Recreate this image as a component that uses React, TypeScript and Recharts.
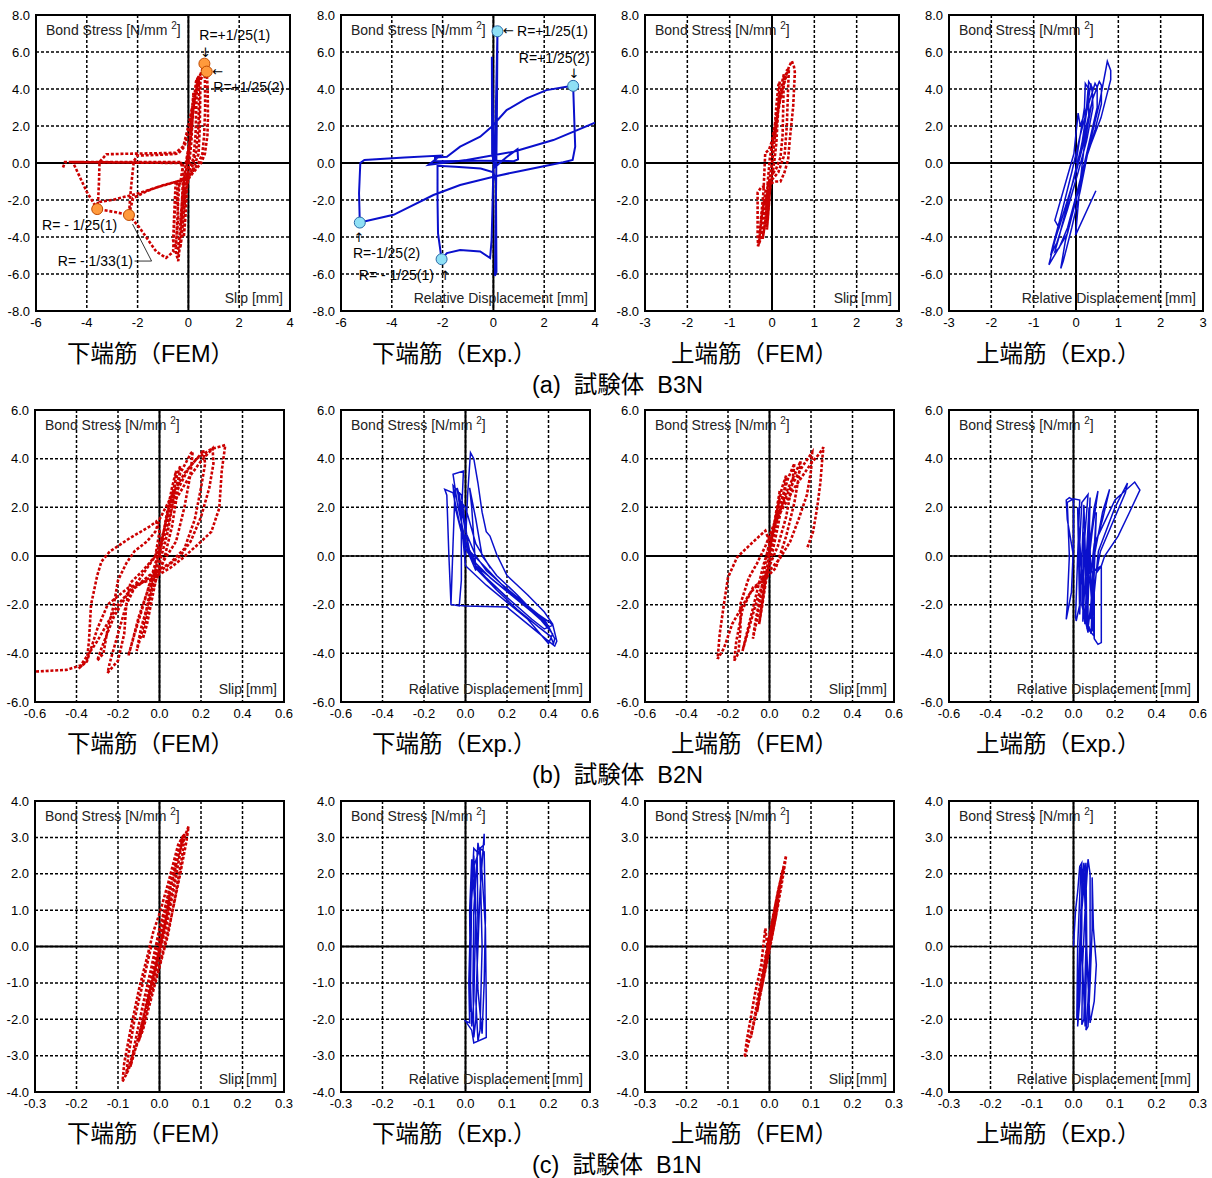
import React from 'react';
import { ComposedChart, Line, XAxis, YAxis, CartesianGrid, ReferenceLine, ReferenceArea, ReferenceDot } from 'recharts';

// ---------- tick values ----------
const X_TICKS_A_WIDE = [-6, -4, -2, 0, 2, 4];
const X_TICKS_A_NARROW = [-3, -2, -1, 0, 1, 2, 3];
const Y_TICKS_A = [-8, -6, -4, -2, 0, 2, 4, 6, 8];
const X_TICKS_B = [-0.6, -0.4, -0.2, 0, 0.2, 0.4, 0.6];
const Y_TICKS_B = [-6, -4, -2, 0, 2, 4, 6];
const X_TICKS_C = [-0.3, -0.2, -0.1, 0, 0.1, 0.2, 0.3];
const Y_TICKS_C = [-4, -3, -2, -1, 0, 1, 2, 3, 4];

// ---------- captions ----------
const GROUP_CAPTIONS = ['(a)  試験体  B3N', '(b)  試験体  B2N', '(c)  試験体  B1N'];
const PANEL_CAPTIONS = ['下端筋（FEM）', '下端筋（Exp.）', '上端筋（FEM）', '上端筋（Exp.）'];

// ---------- (a) B3N ----------
const B3N_BOT_FEM = [
  [0, 0], [0.05, 1.0], [0.1, 2.0], [0.15, 3.0], [0.2, 3.8], [0.18, 3.0], [0.12, 1.2], [0.05, 0.2], [-0.05, -0.8], [-0.1, -2.0], [-0.15, -3.2], [-0.18, -4.0], [-0.12, -3.0], [-0.05, -1.2], [0.02, 0.3],
  [0.1, 1.8], [0.2, 3.2], [0.3, 4.4], [0.35, 4.6], [0.32, 3.5], [0.28, 1.5], [0.2, 0.3], [0.05, -0.4], [-0.1, -1.5], [-0.2, -3.0], [-0.28, -4.2], [-0.32, -4.6], [-0.25, -3.5], [-0.15, -1.5], [-0.05, 0.2],
  [0.1, 1.5], [0.25, 3.5], [0.4, 4.6], [0.48, 4.8], [0.47, 4.0], [0.45, 2.0], [0.4, 0.5], [0.2, -0.3], [0, -0.9], [-0.2, -2.0], [-0.3, -3.5], [-0.4, -4.6], [-0.42, -5.0], [-0.35, -4.0], [-0.25, -2.0], [-0.1, 0.0],
  [0.05, 1.2], [0.2, 3.0], [0.35, 4.4], [0.4, 4.7], [0.42, 3.5], [0.4, 2.0], [0.3, 0.6], [0.1, -0.5], [-0.3, -0.95],
  [-1.0, -1.2], [-1.6, -1.5], [-2.18, -1.9], [-2.34, -2.81],
  [-2.3, -2.0], [-2.25, -1.2], [-2.15, 0.1], [-2.0, 0.4], [-1.0, 0.45], [-0.4, 0.5], [-0.15, 0.9], [0.05, 2.0], [0.25, 3.6], [0.45, 4.7], [0.63, 5.37],
  [0.65, 4.5], [0.66, 3.0], [0.62, 1.5], [0.55, 0.5], [0.4, 0.0], [0.15, -0.5], [-0.1, -0.9], [-0.5, -1.0], [-0.55, -2.5], [-0.6, -4.2], [-0.5, -4.6], [-0.4, -3.0], [-0.45, -1.0],
  [-1.2, -1.3], [-2.0, -1.65], [-3.0, -2.0], [-3.49, -2.1], [-3.59, -2.49],
  [-3.55, -1.9], [-3.52, -1.0], [-3.5, 0.05], [-3.23, 0.47], [-2.5, 0.5], [-1.5, 0.52], [-0.5, 0.55], [-0.2, 0.9], [0.0, 2.0], [0.2, 3.4], [0.4, 4.3], [0.6, 4.8], [0.72, 4.94],
  [0.76, 4.0], [0.77, 2.5], [0.75, 1.5], [0.65, 0.5], [0.5, 0.0], [0.2, -0.5], [0.0, -0.85], [-0.35, -1.0], [-0.4, -2.0], [-0.45, -3.5], [-0.5, -4.8], [-0.4, -5.3], [-0.3, -4.0], [-0.25, -2.0], [-0.2, -0.5], [-0.3, 0.05],
  [-1.5, 0.05], [-3.0, 0.05], [-4.0, 0.05], [-4.55, 0.05], [-4.0, -1.56], [-3.59, -2.49], [-2.9, -2.65], [-2.34, -2.81], [-1.92, -3.5], [-1.27, -4.78], [-0.88, -5.13], [-0.6, -4.8], [-0.55, -3.0], [-0.5, -1.9], [-0.3, -0.9], [-0.2, 0.0], [-2.0, 0.02], [-4.6, 0.05], [-4.86, 0.05], [-4.95, -0.3],
];
const B3N_BOT_FEM_MARKS = [[0.63, 5.37], [0.72, 4.94], [-3.59, -2.49], [-2.34, -2.81]];

const B3N_BOT_EXP = [
  [0, 0], [0.03, 1.0], [0.02, -0.3], [-0.06, 5.74], [-0.05, 0.5], [0.05, -0.2], [0.16, 7.12], [0.14, 3.0], [0.1, -2.0], [0.06, -6.1], [0.12, -5.9], [0.1, -1.0], [0.0, -0.5],
  [-0.5, -0.3], [-1.5, -0.2], [-2.2, -0.15], [-2.2, -2.0], [-2.18, -3.8], [-2.04, -5.2], [-1.83, -4.87], [-1.31, -4.7], [-0.52, -4.78], [-0.13, -5.14], [-0.07, -4.15], [-0.03, -2.0], [0.0, -0.3],
  [0.5, 0.3], [0.95, 0.75], [0.97, 0.2], [0.8, 0.1], [-0.5, 0.12], [-2.3, 0.1], [-2.3, 0.3], [-1.83, 0.34], [-1.31, 0.88], [-0.52, 1.42], [-0.07, 1.96], [0.52, 2.86], [1.31, 3.49], [2.09, 3.94], [2.88, 4.12], [3.14, 4.17],
  [3.22, 0.88], [3.12, 0.16], [2.75, 0.04], [0.92, -0.47], [0, -0.74], [-1.31, -1.19], [-2.36, -1.73], [-3.93, -2.8], [-5.26, -3.22],
  [-5.29, -1.64], [-5.24, 0], [-5.08, 0.16], [-3.5, 0.3], [-2.09, 0.4], [-2.55, -0.1], [-1.05, 0.16], [0.79, 0.61], [2.36, 1.24], [4.0, 2.18],
];
const B3N_BOT_EXP_MARKS = [[0.16, 7.12], [3.14, 4.17], [-5.26, -3.22], [-2.04, -5.2]];

const B3N_TOP_FEM = [
  [0, 0], [0.05, 1.5], [0.1, 3.0], [0.15, 4.2], [0.18, 4.4], [0.15, 3.0], [0.1, 1.0], [0.05, 0], [-0.05, -1.5], [-0.1, -3.0], [-0.12, -3.6], [-0.08, -2.5], [-0.02, -0.5],
  [0.05, 1.0], [0.15, 3.0], [0.25, 4.5], [0.28, 4.8], [0.27, 3.5], [0.25, 1.5], [0.2, 0.3], [0.1, -0.3], [-0.05, -0.8], [-0.12, -2.0], [-0.18, -3.5], [-0.22, -4.1], [-0.15, -3.0], [-0.1, -1.0], [-0.05, 0.3],
  [0.05, 1.5], [0.2, 3.5], [0.35, 5.0], [0.4, 5.1], [0.38, 4.0], [0.35, 2.0], [0.3, 0.5], [0.15, -0.5], [0.0, -0.9], [-0.15, -1.5], [-0.25, -3.0], [-0.3, -4.2], [-0.32, -4.43], [-0.28, -3.5], [-0.2, -1.5],
  [-0.16, 0.54], [-0.07, 0.72], [0.0, 1.2], [0.1, 2.5], [0.25, 4.0], [0.4, 5.2], [0.47, 5.51], [0.52, 5.2], [0.54, 4.9], [0.5, 3.05], [0.42, 1.25], [0.38, 0.18], [0.29, -0.54], [0.2, -1.0], [0.06, -1.0],
  [-0.1, -1.2], [-0.25, -1.3], [-0.34, -1.6], [-0.34, -3.77], [-0.33, -4.5], [-0.25, -4.0], [-0.2, -2.5], [-0.1, -1.5], [0, 0],
];

const B3N_TOP_EXP = [
  [0, 0], [0.1, 1.5], [0.2, 3.0], [0.22, 4.3], [0.3, 4.0], [0.3, 2.5], [0.15, 0.8], [0, -0.5], [-0.2, -2.0], [-0.4, -3.5], [-0.5, -3.1], [-0.3, -1.5], [-0.05, 0.5], [0.05, 2.7], [0.1, 2.0],
  [0.25, 3.0], [0.3, 4.4], [0.38, 4.1], [0.4, 3.0], [0.25, 1.2], [0.05, -0.5], [-0.2, -2.5], [-0.45, -4.3], [-0.6, -5.0], [-0.55, -4.5], [-0.35, -2.8], [-0.1, -0.5],
  [0.1, 1.5], [0.3, 3.2], [0.45, 4.3], [0.5, 4.1], [0.5, 3.0], [0.35, 1.5], [0.2, 0.0], [0, -1.8], [-0.2, -3.5], [-0.4, -4.6], [-0.5, -4.8], [-0.4, -4.0], [-0.2, -2.2], [0.0, -0.3],
  [0.2, 1.6], [0.4, 3.5], [0.55, 4.4], [0.6, 4.2], [0.6, 3.2], [0.45, 1.8], [0.25, 0.3], [0.0, -2.0], [-0.25, -4.2], [-0.36, -5.7], [-0.3, -5.3], [-0.1, -3.5], [0.1, -1.5],
  [0.3, 0.8], [0.55, 3.2], [0.7, 5.0], [0.74, 5.5], [0.82, 5.0], [0.82, 4.5], [0.59, 2.44], [0.35, 1.0], [0.19, -0.1], [0.0, -2.0], [-0.2, -3.8], [-0.64, -5.5], [-0.5, -4.2], [-0.2, -2.0], [0.0, -0.5],
  [0.15, 1.2], [0.35, 4.3], [0.4, 3.6], [0.2, 1.0], [0.1, -1.0], [-0.01, -3.9], [0.47, -1.5],
];

// ---------- (b) B2N ----------
const B2N_BOT_FEM = [
  [0, 0], [0.03, 1.5], [0.06, 2.8], [0.08, 3.5], [0.07, 2.5], [0.04, 1.0], [0.0, -0.3], [-0.03, -1.5], [-0.06, -2.8], [-0.08, -3.4], [-0.06, -2.5], [-0.03, -1.0], [0, 0.2],
  [0.04, 1.8], [0.08, 3.2], [0.1, 3.7], [0.09, 2.8], [0.06, 1.2], [0.02, -0.2], [-0.04, -1.5], [-0.09, -3.0], [-0.11, -3.9], [-0.08, -3.0], [-0.04, -1.2], [0, 0.3],
  [0.05, 2.0], [0.1, 3.4], [0.15, 4.2], [0.16, 4.3], [0.15, 3.4], [0.12, 2.0], [0.08, 0.6], [0.02, -0.2], [-0.04, -1.0], [-0.1, -2.5], [-0.14, -3.8], [-0.15, -4.1], [-0.12, -3.2], [-0.07, -1.8], [-0.02, -0.3], [0.03, 1.0], [0.08, 2.6],
  [0.14, 3.6], [0.2, 4.2], [0.21, 4.36], [0.22, 3.8], [0.2, 2.8], [0.17, 1.5], [0.12, 0.3], [0.05, -0.3], [-0.05, -0.8], [-0.12, -1.3], [-0.16, -2.0], [-0.2, -3.2], [-0.24, -4.4], [-0.25, -4.8], [-0.2, -4.3], [-0.17, -3.2], [-0.16, -2.0], [-0.14, -1.1], [-0.08, -0.6], [-0.02, 0.0], [0.02, 1.0],
  [0.07, 2.2], [0.14, 3.2], [0.2, 3.9], [0.256, 4.42], [0.26, 3.8], [0.24, 2.8], [0.2, 1.6], [0.15, 0.6], [0.1, 0.0], [0.04, -0.4], [-0.05, -0.9], [-0.15, -1.5], [-0.22, -2.5], [-0.28, -3.8], [-0.3, -4.3], [-0.27, -4.0], [-0.25, -3.0], [-0.22, -2.0], [-0.2, -1.0], [-0.16, -0.3], [-0.12, 0.2], [-0.06, 0.6], [-0.02, 1.0], [0.0, 1.5],
  [0.06, 2.5], [0.12, 3.4], [0.18, 4.0], [0.25, 4.4], [0.317, 4.56], [0.3, 3.5], [0.288, 1.96], [0.25, 1.0], [0.2, 0.59], [0.11, -0.1], [0.05, -0.5], [-0.05, -1.0], [-0.15, -1.3], [-0.25, -2.0], [-0.3, -3.0], [-0.35, -4.34], [-0.39, -4.62],
  [-0.35, -4.3], [-0.34, -3.5], [-0.33, -2.0], [-0.3, -0.8], [-0.28, -0.23], [-0.24, 0.18], [-0.144, 0.73], [-0.05, 1.2], [-0.016, 1.41], [0.0, 1.0], [-0.02, 0.0], [-0.1, -1.0], [-0.2, -2.0], [-0.3, -3.5], [-0.38, -4.5], [-0.45, -4.68], [-0.6, -4.75],
];

const B2N_BOT_EXP = [
  [0, 0], [-0.02, 1.5], [-0.04, 2.8], [-0.03, 2.5], [0.0, 1.0], [0.05, 0.0], [0.1, -0.6], [0.18, -1.2], [0.28, -1.9], [0.35, -2.4], [0.4, -2.9], [0.38, -2.6], [0.28, -2.0], [0.15, -1.1], [0.05, -0.4], [0.0, 0.3],
  [-0.05, 2.0], [-0.06, 2.9], [-0.04, 2.7], [-0.01, 1.5], [0.02, 0.2], [0.1, -0.5], [0.2, -1.4], [0.3, -2.1], [0.408, -2.74], [0.42, -2.85], [0.38, -3.0], [0.32, -2.6], [0.2, -1.7], [0.1, -0.9], [0.03, -0.2],
  [-0.02, 1.0], [-0.06, 2.6], [-0.1, 2.74], [-0.09, 2.5], [-0.08, 0.0], [-0.07, -1.99], [-0.03, -2.05], [-0.02, -1.0], [-0.02, 1.5], [-0.01, 3.49], [-0.06, 3.36], [-0.04, 2.2], [0.0, 0.6], [0.05, -0.3],
  [0.12, -0.9], [0.22, -1.6], [0.32, -2.3], [0.4, -2.9], [0.43, -3.4], [0.424, -3.6], [0.41, -3.3], [0.35, -2.9], [0.25, -2.2], [0.15, -1.4], [0.06, -0.6], [0.0, 0.5], [0.01, 2.5], [0.024, 4.25],
  [0.04, 4.0], [0.06, 3.0], [0.08, 1.8], [0.1, 1.0], [0.118, 0.82], [0.15, 0.07], [0.2, -0.8], [0.3, -1.6], [0.38, -2.3], [0.42, -2.8], [0.44, -3.5], [0.43, -3.7], [0.4, -3.5], [0.3, -2.8], [0.2, -2.1], [0.0, -2.05],
  [-0.07, -2.0], [-0.06, 0.5], [-0.05, 2.8], [-0.02, 2.5], [0.02, 0.0], [0.05, -0.6], [0.03, 2.0], [0.02, 2.8], [0.05, 1.5], [0.08, 0.0], [0.15, -0.8], [0.25, -1.6], [0.35, -2.5], [0.42, -3.2], [0.4, -3.6], [0.3, -2.6],
  [0.1, -1.2], [0.0, -0.4], [-0.03, 2.3], [0.0, 2.0], [0.05, 0.5], [0.12, -0.5],
];

const B2N_TOP_FEM = [
  [0, 0], [0.02, 1.2], [0.04, 2.2], [0.05, 2.7], [0.04, 2.0], [0.02, 0.8], [0, -0.2], [-0.02, -1.2], [-0.04, -2.3], [-0.05, -2.8], [-0.04, -2.2], [-0.02, -1.0], [0, 0.2],
  [0.03, 1.6], [0.06, 2.8], [0.08, 3.3], [0.07, 2.6], [0.04, 1.2], [0.01, 0.0], [-0.03, -1.2], [-0.06, -2.6], [-0.08, -3.4], [-0.07, -2.8], [-0.04, -1.4], [-0.01, 0.2],
  [0.04, 1.8], [0.09, 3.2], [0.12, 3.8], [0.11, 3.0], [0.08, 1.6], [0.04, 0.4], [-0.01, -0.6], [-0.06, -1.8], [-0.1, -3.0], [-0.13, -3.9], [-0.11, -3.2], [-0.07, -1.8], [-0.03, -0.4], [0.02, 1.0],
  [0.08, 2.6], [0.14, 3.7], [0.15, 3.9], [0.14, 3.2], [0.12, 2.2], [0.08, 0.8], [0.03, -0.5], [-0.03, -1.0], [-0.08, -1.3], [-0.13, -2.2], [-0.16, -3.5], [-0.17, -4.3], [-0.15, -4.0], [-0.14, -3.0], [-0.14, -1.97], [-0.1, -0.9], [-0.06, -0.3], [-0.02, 0.4], [0.03, 1.5],
  [0.1, 2.8], [0.16, 3.7], [0.206, 4.26], [0.2, 3.5], [0.18, 2.5], [0.14, 1.5], [0.1, 0.6], [0.05, -0.1], [-0.02, -0.8], [-0.1, -1.6], [-0.18, -2.8], [-0.22, -3.8], [-0.25, -4.23], [-0.24, -3.2], [-0.22, -2.0], [-0.2, -0.88], [-0.156, -0.05], [-0.09, 0.49], [-0.02, 1.04], [0.0, 0.6], [0.04, 1.6],
  [0.12, 2.8], [0.2, 3.8], [0.24, 4.2], [0.26, 4.47], [0.255, 4.05], [0.245, 3.0], [0.23, 2.0], [0.21, 1.0], [0.18, 0.29],
];

const B2N_TOP_EXP = [
  [0, 0], [-0.03, 1.5], [-0.035, 2.3], [-0.02, 2.4], [0.0, 2.3], [0.0, 0.5], [-0.01, -1.5], [-0.035, -2.6], [-0.03, -2.0], [-0.02, 0], [-0.03, 2.2], [0.0, 2.35], [0.03, 2.3], [0.02, 0.0], [0.01, -2.5], [0.013, -2.67],
  [0.03, -2.0], [0.03, 0.5], [0.04, 2.2], [0.07, 2.53], [0.05, 0.3], [0.04, -2.0], [0.07, -3.15], [0.07, -2.0], [0.08, 0.5], [0.1, 2.0], [0.118, 2.67], [0.09, 1.0], [0.07, -0.5], [0.06, -2.5], [0.085, -3.2],
  [0.09, -2.0], [0.1, 0.0], [0.14, 1.8], [0.174, 2.74], [0.14, 1.5], [0.1, 0.3], [0.09, -1.5], [0.07, -3.0], [0.1, -3.3], [0.1, -1.5], [0.12, 0.2], [0.2, 2.0], [0.26, 3.0], [0.25, 2.6], [0.18, 1.2], [0.13, 0.2],
  [0.11, -0.7], [0.134, -0.41], [0.134, -3.56], [0.118, -3.63], [0.1, -3.4], [0.08, -1.0], [0.1, 0.5], [0.2, 2.3], [0.295, 3.04], [0.32, 2.71], [0.27, 1.8], [0.215, 0.82], [0.15, 0.0], [0.134, -0.41],
  [0.06, -0.8], [0.05, 2.1], [0.03, -2.4], [0.02, 2.0], [0.055, -2.8], [0.08, 2.4], [0.065, -3.0], [0.05, 1.0], [0.045, -2.7], [0.075, 2.0], [0.09, -3.1], [0.11, 1.8], [0.08, -2.6],
];

// ---------- (c) B1N ----------
const B1N_BOT_FEM = [
  [0, 0], [0.01, 0.6], [0.02, 1.2], [0.025, 1.5], [0.02, 1.0], [0.005, 0.2], [-0.01, -0.6], [-0.025, -1.3], [-0.03, -1.6], [-0.02, -1.0], [-0.005, -0.2],
  [0.01, 0.8], [0.03, 1.8], [0.04, 2.3], [0.035, 1.8], [0.02, 0.9], [0.0, -0.2], [-0.02, -1.2], [-0.04, -2.2], [-0.05, -2.6], [-0.04, -2.0], [-0.02, -0.9],
  [0.0, 0.4], [0.02, 1.4], [0.04, 2.4], [0.055, 3.0], [0.05, 2.6], [0.035, 1.6], [0.015, 0.5], [-0.01, -0.6], [-0.035, -1.8], [-0.06, -2.9], [-0.07, -3.3], [-0.06, -2.7], [-0.04, -1.6], [-0.02, -0.6],
  [0.0, 0.5], [0.03, 1.8], [0.05, 2.7], [0.07, 3.3], [0.065, 2.9], [0.05, 2.0], [0.03, 0.9], [0.005, -0.3], [-0.02, -1.3], [-0.05, -2.5], [-0.075, -3.4], [-0.089, -3.71], [-0.085, -3.2], [-0.07, -2.3],
  [-0.05, -1.2], [-0.03, -0.3], [-0.015, 0.4], [0.0, 0.9], [0.02, 1.7], [0.045, 2.8], [0.06, 3.1], [0.055, 2.5], [0.04, 1.5], [0.02, 0.3], [-0.01, -1.0], [-0.04, -2.3], [-0.065, -3.0], [-0.08, -3.5], [-0.075, -3.0], [-0.06, -2.0], [-0.04, -1.0], [-0.02, 0.0],
];

const B1N_BOT_EXP = [
  [0.01, 0], [0.015, 2.0], [0.02, 2.5], [0.025, 1.0], [0.02, -1.5], [0.015, -2.2], [0.012, -1.0], [0.015, 1.5], [0.02, 2.7], [0.028, 2.6], [0.03, 0.5], [0.025, -2.0], [0.02, -2.5], [0.018, -1.0],
  [0.02, 1.0], [0.03, 2.85], [0.035, 2.5], [0.04, 0.0], [0.035, -2.3], [0.03, -2.6], [0.025, -1.5], [0.035, 1.5], [0.045, 3.1], [0.045, 2.8], [0.035, 2.7], [0.04, 2.0], [0.048, 0.5], [0.05, -1.5], [0.05, -2.5],
  [0.02, -2.65], [0.015, -2.3], [0.0, -2.05], [0.01, -2.1], [0.008, -1.0], [0.012, 0.8], [0.02, 2.2], [0.035, 2.7], [0.045, 2.6], [0.048, 0.8], [0.045, -1.0], [0.04, -2.4], [0.03, -1.2], [0.025, 0.8], [0.015, 2.4], [0.01, 1.0], [0.012, -1.8],
];

const B1N_TOP_FEM = [
  [0, 0], [0.01, 0.7], [0.02, 1.2], [0.015, 0.8], [0.0, 0.0], [-0.01, -0.6], [-0.02, -1.2], [-0.015, -0.8], [0.0, 0.2], [0.015, 1.2], [0.025, 1.7], [0.02, 1.3], [0.005, 0.3], [-0.015, -0.9], [-0.03, -1.8], [-0.025, -1.4], [-0.01, -0.4],
  [0.005, 0.6], [0.02, 1.5], [0.03, 2.0], [0.035, 2.2], [0.025, 1.6], [0.01, 0.5], [-0.01, -0.6], [-0.03, -1.7], [-0.045, -2.5], [-0.04, -2.2], [-0.025, -1.2], [-0.005, 0.0],
  [0.015, 1.2], [0.03, 2.0], [0.04, 2.5], [0.035, 2.1], [0.02, 1.1], [0.0, -0.1], [-0.02, -1.2], [-0.04, -2.2], [-0.06, -3.05], [-0.055, -2.6], [-0.035, -1.3], [-0.02, -0.5], [-0.01, 0.5], [-0.005, 0.0],
];

const B1N_TOP_EXP = [
  [0.0, 0], [0.005, 1.0], [0.01, 1.5], [0.015, 2.2], [0.02, 2.3], [0.02, 0.5], [0.015, -1.5], [0.01, -2.2], [0.012, -1.0], [0.018, 1.0], [0.025, 2.3], [0.028, 2.0], [0.03, 0.0], [0.025, -2.0], [0.02, -2.15],
  [0.022, -0.5], [0.03, 1.5], [0.035, 2.4], [0.04, 2.0], [0.04, 0.0], [0.035, -1.5], [0.03, -2.3], [0.035, -2.2], [0.04, -1.0], [0.045, 0.5], [0.045, 1.9], [0.048, 0.5], [0.055, -0.5], [0.05, -1.5], [0.04, -2.1],
  [0.035, -1.0], [0.03, 0.5], [0.025, 2.0], [0.018, 2.2], [0.01, 0.0], [0.008, -2.0], [0.015, -1.0], [0.02, 1.0], [0.03, 2.3], [0.032, 0.0], [0.028, -2.2], [0.02, 0.0],
];

// ---------- drawing ----------
const FONT = '"Liberation Sans", Arial, "Noto Sans CJK JP", sans-serif';
const ARROW_FONT = '"DejaVu Sans", sans-serif';
const RED = '#cc0000';
const BLUE = '#0a10cc';

type Note = { x: number; y: number; text: string; anchor?: 'start' | 'middle' | 'end'; arrow?: boolean };
type Seg = [number, number, number, number];

type PanelProps = {
  left: number; top: number; w: number; h: number;
  xDomain: [number, number]; xTicks: number[]; xFmt: (v: number) => string;
  yDomain: [number, number]; yTicks: number[];
  data: number[][]; color: string; dashed: boolean; lineW: number;
  xLabel: string; thinH?: boolean;
  marks?: number[][]; markFill?: string; markStroke?: string;
  notes?: Note[]; segs?: Seg[];
};

const yFmt = (v: number) => v.toFixed(1);
const intFmt = (v: number) => String(Math.round(v));
const decFmt = (v: number) => v.toFixed(1);

function Panel(p: PanelProps) {
  const ML = 40, MT = 10, MR = 12, MB = 26;
  const pts = p.data.map(([x, y]) => ({ x, y }));
  const tickStyle = { fontSize: 13, fill: '#000', fontFamily: FONT };
  return (
    <div style={{ position: 'absolute', left: p.left - ML, top: p.top - MT, width: ML + p.w + MR, height: MT + p.h + MB }}>
      <ComposedChart width={ML + p.w + MR} height={MT + p.h + MB} data={pts} margin={{ top: MT, right: MR, left: 0, bottom: 0 }}>
        <CartesianGrid stroke="#000" strokeWidth={1.5} strokeDasharray="3 2" />
        <XAxis type="number" dataKey="x" domain={p.xDomain} ticks={p.xTicks} tickFormatter={p.xFmt} allowDataOverflow
          axisLine={false} tickLine={false} tickSize={3} tickMargin={4} height={MB} interval={0} tick={tickStyle} />
        <YAxis type="number" domain={p.yDomain} ticks={p.yTicks} tickFormatter={yFmt} allowDataOverflow
          axisLine={false} tickLine={false} width={ML} tickSize={4} tickMargin={2} interval={0} tick={tickStyle} />
        <ReferenceLine x={0} stroke="#000" strokeWidth={2} />
        <ReferenceLine y={0} stroke="#000" strokeWidth={p.thinH ? 1.4 : 2} />
        <Line type="linear" dataKey="y" stroke={p.color} strokeWidth={p.lineW}
          strokeDasharray={p.dashed ? '3 1.8' : undefined} dot={false} activeDot={false} isAnimationActive={false} />
        <ReferenceArea x1={p.xDomain[0]} x2={p.xDomain[1]} y1={p.yDomain[0]} y2={p.yDomain[1]}
          fill="none" fillOpacity={0} stroke="#000" strokeWidth={2} />
        {(p.segs || []).map((s, i) => (
          <ReferenceLine key={'s' + i} segment={[{ x: s[0], y: s[1] }, { x: s[2], y: s[3] }]} stroke="#000" strokeWidth={0.8} />
        ))}
        {(p.marks || []).map((m, i) => (
          <ReferenceDot key={'m' + i} x={m[0]} y={m[1]} r={5.5} fill={p.markFill} stroke={p.markStroke} strokeWidth={1} />
        ))}
        {(p.notes || []).map((n, i) => (
          <ReferenceDot key={'n' + i} x={n.x} y={n.y} r={0}
            shape={(sp: any) => (
              <text x={sp.cx} y={sp.cy} textAnchor={n.anchor || 'start'} fontSize={n.arrow ? 13 : 14}
                fontFamily={n.arrow ? ARROW_FONT : FONT} fill="#000">{n.text}</text>
            )} />
        ))}
      </ComposedChart>
      <div style={{ position: 'absolute', left: ML + 10, top: MT + 7, fontFamily: FONT, fontSize: 14, lineHeight: '16px', whiteSpace: 'nowrap', color: '#222' }}>
        Bond Stress [N/mm <sup style={{ fontSize: 10, verticalAlign: 6, lineHeight: 0 }}>2</sup>]
      </div>
      <div style={{ position: 'absolute', right: MR + 7, top: MT + p.h - 21, fontFamily: FONT, fontSize: 14, lineHeight: '16px', whiteSpace: 'nowrap', color: '#222' }}>
        {p.xLabel}
      </div>
    </div>
  );
}

const COL_LEFT = [36, 341, 645, 949];
const CAPTION_LEFT = [67, 372, 671, 976];

export default function App() {
  const rowA = { top: 15, w: 254, h: 296, yDomain: [-8, 8] as [number, number], yTicks: Y_TICKS_A };
  const rowB = { top: 410, w: 249, h: 292, yDomain: [-6, 6] as [number, number], yTicks: Y_TICKS_B };
  const rowC = { top: 801, w: 249, h: 291, yDomain: [-4, 4] as [number, number], yTicks: Y_TICKS_C };
  const slip = 'Slip [mm]';
  const rel = 'Relative Displacement [mm]';
  const rowCaptionY = [341, 731, 1121];
  const groupCaptionY = [372, 762, 1152];

  return (
    <div style={{ position: 'absolute', left: 0, top: 0, width: 1212, height: 1178, background: '#fff', overflow: 'hidden' }}>
      {/* (a) B3N */}
      <Panel left={COL_LEFT[0]} {...rowA} xDomain={[-6, 4]} xTicks={X_TICKS_A_WIDE} xFmt={intFmt}
        data={B3N_BOT_FEM} color={RED} dashed lineW={2.6} xLabel={slip}
        marks={B3N_BOT_FEM_MARKS} markFill="#ff9a3c" markStroke="#c04a00"
        notes={[
          { x: 0.43, y: 6.65, text: 'R=+1/25(1)' },
          { x: 0.67, y: 5.75, text: '↓', anchor: 'middle', arrow: true },
          { x: 0.94, y: 4.72, text: '←', arrow: true },
          { x: 0.98, y: 3.84, text: 'R=+1/25(2)' },
          { x: -5.76, y: -3.62, text: 'R= - 1/25(1)' },
          { x: -5.14, y: -5.57, text: 'R= - 1/33(1)' },
        ]}
        segs={[[-2.2, -3.3, -1.45, -5.3], [-2.12, -5.3, -1.45, -5.3]]} />
      <Panel left={COL_LEFT[1]} {...rowA} xDomain={[-6, 4]} xTicks={X_TICKS_A_WIDE} xFmt={intFmt}
        data={B3N_BOT_EXP} color={BLUE} dashed={false} lineW={2} xLabel={rel}
        marks={B3N_BOT_EXP_MARKS} markFill="#8fe0f5" markStroke="#2a6aa8"
        notes={[
          { x: 0.38, y: 6.9, text: '←', arrow: true },
          { x: 0.93, y: 6.86, text: 'R=+1/25(1)' },
          { x: 1.0, y: 5.41, text: 'R=+1/25(2)' },
          { x: 3.17, y: 4.62, text: '↓', anchor: 'middle', arrow: true },
          { x: -5.29, y: -4.25, text: '↑', anchor: 'middle', arrow: true },
          { x: -5.53, y: -5.14, text: 'R=-1/25(2)' },
          { x: -5.3, y: -6.32, text: 'R= - 1/25(1)' },
          { x: -1.9, y: -6.3, text: '↑', anchor: 'middle', arrow: true },
        ]} />
      <Panel left={COL_LEFT[2]} {...rowA} xDomain={[-3, 3]} xTicks={X_TICKS_A_NARROW} xFmt={intFmt}
        data={B3N_TOP_FEM} color={RED} dashed lineW={2.6} xLabel={slip} />
      <Panel left={COL_LEFT[3]} {...rowA} xDomain={[-3, 3]} xTicks={X_TICKS_A_NARROW} xFmt={intFmt}
        data={B3N_TOP_EXP} color={BLUE} dashed={false} lineW={1.5} xLabel={rel} />

      {/* (b) B2N */}
      <Panel left={35} {...rowB} xDomain={[-0.6, 0.6]} xTicks={X_TICKS_B} xFmt={decFmt}
        data={B2N_BOT_FEM} color={RED} dashed lineW={2.6} xLabel={slip} />
      <Panel left={COL_LEFT[1]} {...rowB} xDomain={[-0.6, 0.6]} xTicks={X_TICKS_B} xFmt={decFmt}
        data={B2N_BOT_EXP} color={BLUE} dashed={false} lineW={1.5} xLabel={rel} thinH />
      <Panel left={COL_LEFT[2]} {...rowB} xDomain={[-0.6, 0.6]} xTicks={X_TICKS_B} xFmt={decFmt}
        data={B2N_TOP_FEM} color={RED} dashed lineW={2.6} xLabel={slip} />
      <Panel left={COL_LEFT[3]} {...rowB} xDomain={[-0.6, 0.6]} xTicks={X_TICKS_B} xFmt={decFmt}
        data={B2N_TOP_EXP} color={BLUE} dashed={false} lineW={1.5} xLabel={rel} thinH />

      {/* (c) B1N */}
      <Panel left={35} {...rowC} xDomain={[-0.3, 0.3]} xTicks={X_TICKS_C} xFmt={decFmt}
        data={B1N_BOT_FEM} color={RED} dashed lineW={2.6} xLabel={slip} />
      <Panel left={COL_LEFT[1]} {...rowC} xDomain={[-0.3, 0.3]} xTicks={X_TICKS_C} xFmt={decFmt}
        data={B1N_BOT_EXP} color={BLUE} dashed={false} lineW={1.5} xLabel={rel} />
      <Panel left={COL_LEFT[2]} {...rowC} xDomain={[-0.3, 0.3]} xTicks={X_TICKS_C} xFmt={decFmt}
        data={B1N_TOP_FEM} color={RED} dashed lineW={2.6} xLabel={slip} />
      <Panel left={COL_LEFT[3]} {...rowC} xDomain={[-0.3, 0.3]} xTicks={X_TICKS_C} xFmt={decFmt}
        data={B1N_TOP_EXP} color={BLUE} dashed={false} lineW={1.5} xLabel={rel} thinH />

      {rowCaptionY.map((cy, r) => (
        <React.Fragment key={'row' + r}>
          {PANEL_CAPTIONS.map((c, i) => (
            <div key={c + i} style={{ position: 'absolute', left: CAPTION_LEFT[i], top: cy, fontFamily: FONT, fontSize: 23.5, lineHeight: '26px', whiteSpace: 'nowrap', color: '#000' }}>{c}</div>
          ))}
          <div style={{ position: 'absolute', left: 532, top: groupCaptionY[r], fontFamily: FONT, fontSize: 23.5, lineHeight: '26px', whiteSpace: 'pre', color: '#000' }}>{GROUP_CAPTIONS[r]}</div>
        </React.Fragment>
      ))}
    </div>
  );
}
